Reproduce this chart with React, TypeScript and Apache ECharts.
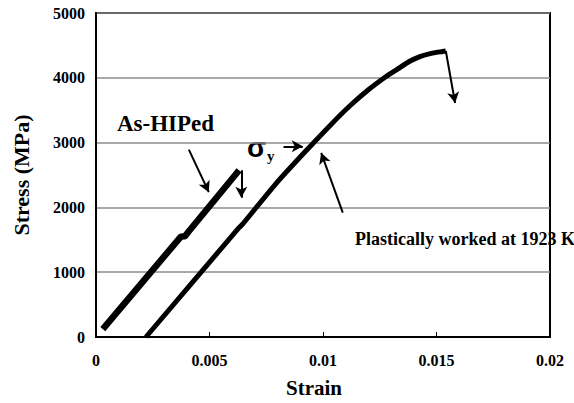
import React, { useEffect, useRef } from "react";
import * as echarts from "echarts";

// X-axis ticks (strain) and Y-axis ticks (stress, MPa)
const xTicks = [0, 0.005, 0.01, 0.015, 0.02];
const yTicks = [0, 1000, 2000, 3000, 4000, 5000];

// As-HIPed curve
const asHipedStrain = [0.0003, 0.00374, 0.00392, 0.0041, 0.00615, 0.0063];
const asHipedStress = [123, 1549, 1556, 1636, 2508, 2574];

// Plastically worked at 1923 K curve
const plasticStrain = [0.0022, 0.0063, 0.00645, 0.00791, 0.00919, 0.0104, 0.0112, 0.012, 0.01278, 0.0133, 0.0138, 0.0143, 0.01468, 0.015, 0.01527, 0.01541];
const plasticStress = [0, 1687, 1738, 2360, 2850, 3296, 3572, 3815, 4020, 4138, 4251, 4330, 4369, 4392, 4405, 4414];

// Arrows: [startStrain, startStress, endStrain, endStress]
const asHipedDrop = [0.0064, 2574, 0.0064, 2149];
const plasticDrop = [0.01541, 4414, 0.01582, 3611];
const asHipedPointer = [0.00409, 2892, 0.00497, 2235];
const sigmaArrow = [0.00826, 2943, 0.00911, 2943];
const plasticPointer = [0.01087, 1918, 0.00992, 2842];

const toPairs = (xs: number[], ys: number[]) => xs.map((x, i) => [x, ys[i]]);
const arrowLine = (a: number[]) => [{ coord: [a[0], a[1]] }, { coord: [a[2], a[3]] }];

export default function App() {
  const ref = useRef<HTMLDivElement>(null);
  useEffect(() => {
    if (!ref.current) return;
    const chart = echarts.init(ref.current, undefined, { renderer: "svg" });
    const serif = "Liberation Serif";
    chart.setOption({
      animation: false,
      backgroundColor: "#fff",
      grid: {
        left: 96,
        right: 24,
        top: 13,
        bottom: 65,
        show: true,
        borderColor: "#000",
        borderWidth: 2,
      },
      xAxis: {
        type: "value",
        min: xTicks[0],
        max: xTicks[xTicks.length - 1],
        interval: xTicks[1] - xTicks[0],
        name: "Strain",
        nameLocation: "middle",
        nameGap: 40,
        nameTextStyle: { fontFamily: serif, fontWeight: "bold", fontSize: 21, color: "#000", padding: [0, 18, 0, 0] },
        axisLine: { lineStyle: { color: "#000", width: 2 } },
        axisTick: { inside: true, length: 5, lineStyle: { color: "#000", width: 1 } },
        axisLabel: {
          fontFamily: serif,
          fontWeight: "bold",
          fontSize: 16,
          color: "#000",
          margin: 15,
          formatter: (v: number) => String(v),
        },
        splitLine: { show: false },
      },
      yAxis: {
        type: "value",
        min: yTicks[0],
        max: yTicks[yTicks.length - 1],
        interval: yTicks[1] - yTicks[0],
        name: "Stress (MPa)",
        nameLocation: "middle",
        nameGap: 64,
        nameRotate: 90,
        nameTextStyle: { fontFamily: serif, fontWeight: "bold", fontSize: 22, color: "#000" },
        axisLine: { lineStyle: { color: "#000", width: 2 } },
        axisTick: { show: false },
        axisLabel: {
          fontFamily: serif,
          fontWeight: "bold",
          fontSize: 16,
          color: "#000",
          margin: 11,
          formatter: (v: number) => String(v),
        },
        splitLine: { show: true, lineStyle: { color: "#8c8c8c", width: 1.5 } },
      },
      series: [
        {
          type: "line",
          name: "As-HIPed",
          data: toPairs(asHipedStrain, asHipedStress),
          showSymbol: false,
          lineStyle: { color: "#000", width: 6.5 },
          z: 3,
        },
        {
          type: "line",
          name: "Plastically worked at 1923 K",
          data: toPairs(plasticStrain, plasticStress),
          showSymbol: false,
          smooth: 0.2,
          lineStyle: { color: "#000", width: 5 },
          z: 3,
        },
        {
          type: "line",
          name: "arrows",
          data: [],
          markLine: {
            silent: true,
            symbol: ["none", "arrow"],
            symbolSize: [9, 11],
            label: { show: false },
            lineStyle: { color: "#000", width: 2, type: "solid" },
            data: [
              arrowLine(asHipedDrop),
              arrowLine(plasticDrop),
              arrowLine(asHipedPointer),
              arrowLine(sigmaArrow),
              arrowLine(plasticPointer),
            ],
          },
        },
      ],
      graphic: [
        {
          type: "text",
          x: 117,
          y: 123,
          style: { text: "As-HIPed", font: `bold 23px "${serif}"`, fill: "#000", verticalAlign: "middle" },
        },
        {
          type: "text",
          x: 247,
          y: 147,
          style: { text: "σ", font: 'bold 28px "Liberation Sans"', fill: "#000", verticalAlign: "middle" },
        },
        {
          type: "text",
          x: 267,
          y: 156,
          style: { text: "y", font: `bold 15px "${serif}"`, fill: "#000", verticalAlign: "middle" },
        },
        {
          type: "text",
          x: 355,
          y: 239,
          style: { text: "Plastically worked at 1923 K", font: `bold 18px "${serif}"`, fill: "#000", verticalAlign: "middle" },
        },
      ],
    });
    return () => chart.dispose();
  }, []);
  return (
    <div
      ref={ref}
      style={{ position: "absolute", left: 0, top: 0, width: 574, height: 403, background: "#fff" }}
    />
  );
}
